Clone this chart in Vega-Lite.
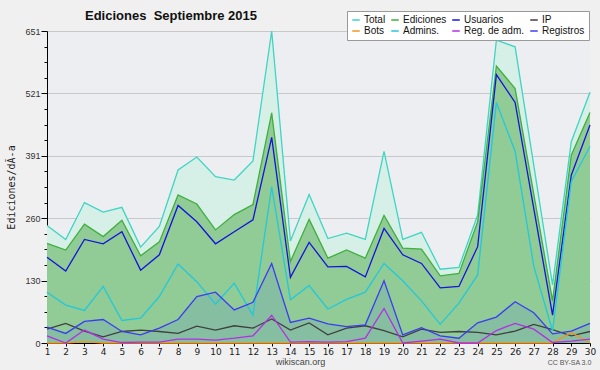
{
"$schema": "https://vega.github.io/schema/vega-lite/v6.json",
"width": 543, "height": 312,
"autosize": {"type": "none"},
"padding": {"left": 47, "top": 31, "right": 10, "bottom": 27},
"background": "#f0f0f0",
"config": {"view": {"fill": "#edeef1", "stroke": null}, "font": "Liberation Sans"},
"title": {"text": "Ediciones\u00a0 Septiembre 2015", "anchor": "start", "frame": "group", "dx": 38, "offset": -12, "font": "Liberation Sans", "fontSize": 13, "fontWeight": "bold", "color": "#111"},
"data": {"values": [
{"d":1,"s":"Total","v":245},{"d":2,"s":"Total","v":216},{"d":3,"s":"Total","v":293},{"d":4,"s":"Total","v":273},{"d":5,"s":"Total","v":283},{"d":6,"s":"Total","v":200},{"d":7,"s":"Total","v":243},{"d":8,"s":"Total","v":361},{"d":9,"s":"Total","v":388},{"d":10,"s":"Total","v":347},{"d":11,"s":"Total","v":340},{"d":12,"s":"Total","v":380},{"d":13,"s":"Total","v":651},{"d":14,"s":"Total","v":213},{"d":15,"s":"Total","v":310},{"d":16,"s":"Total","v":218},{"d":17,"s":"Total","v":229},{"d":18,"s":"Total","v":216},{"d":19,"s":"Total","v":400},{"d":20,"s":"Total","v":216},{"d":21,"s":"Total","v":231},{"d":22,"s":"Total","v":154},{"d":23,"s":"Total","v":158},{"d":24,"s":"Total","v":267},{"d":25,"s":"Total","v":632},{"d":26,"s":"Total","v":618},{"d":27,"s":"Total","v":370},{"d":28,"s":"Total","v":121},{"d":29,"s":"Total","v":420},{"d":30,"s":"Total","v":523},
{"d":1,"s":"Ediciones","v":208},{"d":2,"s":"Ediciones","v":194},{"d":3,"s":"Ediciones","v":248},{"d":4,"s":"Ediciones","v":222},{"d":5,"s":"Ediciones","v":256},{"d":6,"s":"Ediciones","v":182},{"d":7,"s":"Ediciones","v":211},{"d":8,"s":"Ediciones","v":309},{"d":9,"s":"Ediciones","v":290},{"d":10,"s":"Ediciones","v":236},{"d":11,"s":"Ediciones","v":268},{"d":12,"s":"Ediciones","v":289},{"d":13,"s":"Ediciones","v":480},{"d":14,"s":"Ediciones","v":170},{"d":15,"s":"Ediciones","v":258},{"d":16,"s":"Ediciones","v":177},{"d":17,"s":"Ediciones","v":194},{"d":18,"s":"Ediciones","v":177},{"d":19,"s":"Ediciones","v":266},{"d":20,"s":"Ediciones","v":198},{"d":21,"s":"Ediciones","v":196},{"d":22,"s":"Ediciones","v":140},{"d":23,"s":"Ediciones","v":145},{"d":24,"s":"Ediciones","v":253},{"d":25,"s":"Ediciones","v":578},{"d":26,"s":"Ediciones","v":531},{"d":27,"s":"Ediciones","v":310},{"d":28,"s":"Ediciones","v":88},{"d":29,"s":"Ediciones","v":392},{"d":30,"s":"Ediciones","v":481},
{"d":1,"s":"Usuarios","v":179},{"d":2,"s":"Usuarios","v":150},{"d":3,"s":"Usuarios","v":216},{"d":4,"s":"Usuarios","v":207},{"d":5,"s":"Usuarios","v":232},{"d":6,"s":"Usuarios","v":152},{"d":7,"s":"Usuarios","v":184},{"d":8,"s":"Usuarios","v":287},{"d":9,"s":"Usuarios","v":253},{"d":10,"s":"Usuarios","v":207},{"d":11,"s":"Usuarios","v":232},{"d":12,"s":"Usuarios","v":257},{"d":13,"s":"Usuarios","v":429},{"d":14,"s":"Usuarios","v":137},{"d":15,"s":"Usuarios","v":210},{"d":16,"s":"Usuarios","v":159},{"d":17,"s":"Usuarios","v":160},{"d":18,"s":"Usuarios","v":138},{"d":19,"s":"Usuarios","v":239},{"d":20,"s":"Usuarios","v":184},{"d":21,"s":"Usuarios","v":166},{"d":22,"s":"Usuarios","v":115},{"d":23,"s":"Usuarios","v":118},{"d":24,"s":"Usuarios","v":201},{"d":25,"s":"Usuarios","v":560},{"d":26,"s":"Usuarios","v":502},{"d":27,"s":"Usuarios","v":280},{"d":28,"s":"Usuarios","v":58},{"d":29,"s":"Usuarios","v":350},{"d":30,"s":"Usuarios","v":455},
{"d":1,"s":"IP","v":29},{"d":2,"s":"IP","v":41},{"d":3,"s":"IP","v":25},{"d":4,"s":"IP","v":13},{"d":5,"s":"IP","v":24},{"d":6,"s":"IP","v":27},{"d":7,"s":"IP","v":24},{"d":8,"s":"IP","v":20},{"d":9,"s":"IP","v":35},{"d":10,"s":"IP","v":27},{"d":11,"s":"IP","v":36},{"d":12,"s":"IP","v":31},{"d":13,"s":"IP","v":50},{"d":14,"s":"IP","v":27},{"d":15,"s":"IP","v":42},{"d":16,"s":"IP","v":17},{"d":17,"s":"IP","v":31},{"d":18,"s":"IP","v":36},{"d":19,"s":"IP","v":26},{"d":20,"s":"IP","v":13},{"d":21,"s":"IP","v":29},{"d":22,"s":"IP","v":22},{"d":23,"s":"IP","v":24},{"d":24,"s":"IP","v":22},{"d":25,"s":"IP","v":17},{"d":26,"s":"IP","v":25},{"d":27,"s":"IP","v":39},{"d":28,"s":"IP","v":28},{"d":29,"s":"IP","v":15},{"d":30,"s":"IP","v":24},
{"d":1,"s":"Bots","v":0},{"d":2,"s":"Bots","v":0},{"d":3,"s":"Bots","v":3},{"d":4,"s":"Bots","v":0},{"d":5,"s":"Bots","v":0},{"d":6,"s":"Bots","v":0},{"d":7,"s":"Bots","v":0},{"d":8,"s":"Bots","v":0},{"d":9,"s":"Bots","v":0},{"d":10,"s":"Bots","v":0},{"d":11,"s":"Bots","v":0},{"d":12,"s":"Bots","v":0},{"d":13,"s":"Bots","v":0},{"d":14,"s":"Bots","v":0},{"d":15,"s":"Bots","v":0},{"d":16,"s":"Bots","v":0},{"d":17,"s":"Bots","v":0},{"d":18,"s":"Bots","v":0},{"d":19,"s":"Bots","v":0},{"d":20,"s":"Bots","v":0},{"d":21,"s":"Bots","v":0},{"d":22,"s":"Bots","v":0},{"d":23,"s":"Bots","v":0},{"d":24,"s":"Bots","v":0},{"d":25,"s":"Bots","v":0},{"d":26,"s":"Bots","v":0},{"d":27,"s":"Bots","v":0},{"d":28,"s":"Bots","v":0},{"d":29,"s":"Bots","v":22},{"d":30,"s":"Bots","v":0},
{"d":1,"s":"Admins.","v":106},{"d":2,"s":"Admins.","v":79},{"d":3,"s":"Admins.","v":68},{"d":4,"s":"Admins.","v":118},{"d":5,"s":"Admins.","v":47},{"d":6,"s":"Admins.","v":52},{"d":7,"s":"Admins.","v":97},{"d":8,"s":"Admins.","v":165},{"d":9,"s":"Admins.","v":128},{"d":10,"s":"Admins.","v":81},{"d":11,"s":"Admins.","v":125},{"d":12,"s":"Admins.","v":58},{"d":13,"s":"Admins.","v":326},{"d":14,"s":"Admins.","v":90},{"d":15,"s":"Admins.","v":120},{"d":16,"s":"Admins.","v":71},{"d":17,"s":"Admins.","v":91},{"d":18,"s":"Admins.","v":106},{"d":19,"s":"Admins.","v":166},{"d":20,"s":"Admins.","v":130},{"d":21,"s":"Admins.","v":88},{"d":22,"s":"Admins.","v":39},{"d":23,"s":"Admins.","v":83},{"d":24,"s":"Admins.","v":142},{"d":25,"s":"Admins.","v":502},{"d":26,"s":"Admins.","v":400},{"d":27,"s":"Admins.","v":160},{"d":28,"s":"Admins.","v":25},{"d":29,"s":"Admins.","v":337},{"d":30,"s":"Admins.","v":410},
{"d":1,"s":"Reg. de adm.","v":15},{"d":2,"s":"Reg. de adm.","v":0},{"d":3,"s":"Reg. de adm.","v":27},{"d":4,"s":"Reg. de adm.","v":8},{"d":5,"s":"Reg. de adm.","v":1},{"d":6,"s":"Reg. de adm.","v":2},{"d":7,"s":"Reg. de adm.","v":2},{"d":8,"s":"Reg. de adm.","v":8},{"d":9,"s":"Reg. de adm.","v":8},{"d":10,"s":"Reg. de adm.","v":6},{"d":11,"s":"Reg. de adm.","v":10},{"d":12,"s":"Reg. de adm.","v":15},{"d":13,"s":"Reg. de adm.","v":58},{"d":14,"s":"Reg. de adm.","v":2},{"d":15,"s":"Reg. de adm.","v":3},{"d":16,"s":"Reg. de adm.","v":2},{"d":17,"s":"Reg. de adm.","v":3},{"d":18,"s":"Reg. de adm.","v":10},{"d":19,"s":"Reg. de adm.","v":72},{"d":20,"s":"Reg. de adm.","v":0},{"d":21,"s":"Reg. de adm.","v":4},{"d":22,"s":"Reg. de adm.","v":8},{"d":23,"s":"Reg. de adm.","v":0},{"d":24,"s":"Reg. de adm.","v":0},{"d":25,"s":"Reg. de adm.","v":26},{"d":26,"s":"Reg. de adm.","v":41},{"d":27,"s":"Reg. de adm.","v":29},{"d":28,"s":"Reg. de adm.","v":1},{"d":29,"s":"Reg. de adm.","v":4},{"d":30,"s":"Reg. de adm.","v":8},
{"d":1,"s":"Registros","v":33},{"d":2,"s":"Registros","v":20},{"d":3,"s":"Registros","v":45},{"d":4,"s":"Registros","v":49},{"d":5,"s":"Registros","v":24},{"d":6,"s":"Registros","v":17},{"d":7,"s":"Registros","v":31},{"d":8,"s":"Registros","v":49},{"d":9,"s":"Registros","v":97},{"d":10,"s":"Registros","v":106},{"d":11,"s":"Registros","v":69},{"d":12,"s":"Registros","v":85},{"d":13,"s":"Registros","v":166},{"d":14,"s":"Registros","v":43},{"d":15,"s":"Registros","v":52},{"d":16,"s":"Registros","v":40},{"d":17,"s":"Registros","v":34},{"d":18,"s":"Registros","v":38},{"d":19,"s":"Registros","v":130},{"d":20,"s":"Registros","v":17},{"d":21,"s":"Registros","v":32},{"d":22,"s":"Registros","v":15},{"d":23,"s":"Registros","v":10},{"d":24,"s":"Registros","v":42},{"d":25,"s":"Registros","v":54},{"d":26,"s":"Registros","v":86},{"d":27,"s":"Registros","v":63},{"d":28,"s":"Registros","v":19},{"d":29,"s":"Registros","v":25},{"d":30,"s":"Registros","v":41}
]},
"layer": [
{"transform": [{"filter": "datum.s === 'Total'"}],
 "mark": {"type": "area", "color": "#d6f0e7", "opacity": 1},
 "encoding": {
  "x": {"field": "d", "type": "quantitative", "scale": {"domain": [1, 30], "nice": false, "zero": false},
   "axis": {"values": [1,2,3,4,5,6,7,8,9,10,11,12,13,14,15,16,17,18,19,20,21,22,23,24,25,26,27,28,29,30], "format": "d", "labelFlush": false, "labelOverlap": false, "labelFont": "DejaVu Sans", "labelFontSize": 9, "labelColor": "#222", "labelPadding": 1, "tickSize": 3, "tickColor": "#000", "domainColor": "#000", "grid": false,
    "title": "wikiscan.org", "titleX": 253, "titleY": 18, "titleBaseline": "middle", "titleAlign": "center", "titleFont": "Liberation Sans", "titleFontSize": 9, "titleFontWeight": "normal", "titleColor": "#444"}},
  "y": {"field": "v", "type": "quantitative", "stack": null, "scale": {"domain": [0, 651], "nice": false},
   "axis": {"values": [0, 130.2, 260.4, 390.6, 520.8, 651], "format": ".0f", "labelFont": "Liberation Sans", "labelFontSize": 9, "labelColor": "#333", "labelPadding": 1, "tickSize": 6, "tickColor": "#000", "domainColor": "#000", "grid": true, "gridColor": "#c8c8c8", "gridWidth": 1, "labelOverlap": false,
    "title": "Ediciones/dÃ-a", "titleX": -36, "titleY": 156, "titleAngle": -90, "titleBaseline": "middle", "titleAlign": "center", "titleFont": "DejaVu Sans Mono", "titleFontSize": 10, "titleFontWeight": "normal", "titleColor": "#222"}}
 }},
{"transform": [{"filter": "datum.s === 'Ediciones'"}],
 "mark": {"type": "area", "color": "#91cb96", "opacity": 1},
 "encoding": {
  "x": {"field": "d", "type": "quantitative", "axis": null},
  "y": {"field": "v", "type": "quantitative", "stack": null, "axis": null}
 }},
{"transform": [{"filter": "datum.s === 'Registros'"}],
 "mark": {"type": "area", "color": "#85bea0", "opacity": 1},
 "encoding": {
  "x": {"field": "d", "type": "quantitative", "axis": null},
  "y": {"field": "v", "type": "quantitative", "stack": null, "axis": null}
 }},
{"mark": {"type": "line", "strokeWidth": 1.3},
 "encoding": {
  "x": {"field": "d", "type": "quantitative",
   "axis": {"orient": "bottom", "labels": false, "ticks": false, "domain": false, "grid": false,
    "title": "CC BY-SA 3.0", "titleX": 522, "titleY": 19, "titleBaseline": "middle", "titleAlign": "center", "titleFont": "Liberation Sans", "titleFontSize": 7, "titleFontWeight": "normal", "titleColor": "#555"}},
  "y": {"field": "v", "type": "quantitative", "stack": null,
   "axis": {"orient": "left", "values": [32.55, 65.1, 97.65, 162.75, 195.3, 227.85, 292.95, 325.5, 358.05, 423.15, 455.7, 488.25, 553.35, 585.9, 618.45], "labels": false, "tickSize": 3, "tickColor": "#000", "domain": false, "grid": false, "title": null}},
  "color": {"field": "s", "type": "nominal",
   "scale": {"domain": ["Total", "Ediciones", "Usuarios", "IP", "Bots", "Admins.", "Reg. de adm.", "Registros"],
             "range": ["#3fd4c4", "#3faf3f", "#1414dc", "#404040", "#f0961e", "#22c8dc", "#b42ee6", "#3c3cf2"]},
   "legend": {"orient": "none", "legendX": 300, "legendY": -20, "direction": "horizontal", "columns": 4, "title": null,
    "symbolType": "stroke", "symbolSize": 56, "symbolStrokeWidth": 1.5, "labelFont": "Liberation Sans", "labelFontSize": 10, "labelColor": "#111", "labelOffset": 3,
    "columnPadding": 2, "rowPadding": 1, "padding": 4, "fillColor": "#ffffff", "strokeColor": "#999999"}}
 }}
],
"resolve": {"axis": {"x": "independent", "y": "independent"}}
}
